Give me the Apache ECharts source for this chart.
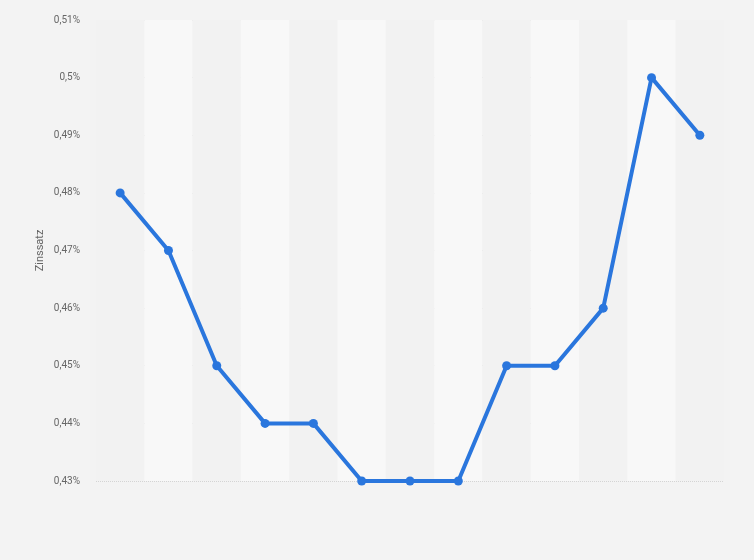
<!DOCTYPE html>
<html lang="de">
<head>
<meta charset="UTF-8">
<title>Zinssatz</title>
<script src="https://cdn.jsdelivr.net/npm/echarts@6/dist/echarts.min.js"></script>
<style>
  html, body { margin: 0; padding: 0; background: #f4f4f4; }
  #chart { width: 754px; height: 560px; }
</style>
</head>
<body>
<div id="chart"></div>
<script>
// categories (no labels shown in the reference)
const categories = ['1', '2', '3', '4', '5', '6', '7', '8', '9', '10', '11', '12', '13'];
const rates = [0.48, 0.47, 0.45, 0.44, 0.44, 0.43, 0.43, 0.43, 0.45, 0.45, 0.46, 0.50, 0.49];

const chart = echarts.init(document.getElementById('chart'));
chart.setOption({
  backgroundColor: '#f3f3f3',
  animation: false,
  grid: { left: 96, right: 30, top: 20, bottom: 79 },
  xAxis: {
    type: 'category',
    data: categories,
    boundaryGap: true,
    axisLine: { show: false },
    axisTick: { show: false },
    axisLabel: { show: false },
    splitArea: { show: true, areaStyle: { color: ['#f2f2f2', '#f8f8f8'] } }
  },
  yAxis: {
    type: 'value',
    min: 0.43,
    max: 0.51,
    interval: 0.01,
    name: 'Zinssatz',
    nameLocation: 'middle',
    nameGap: 50,
    nameMoveOverlap: false,
    nameTextStyle: { color: '#666', fontSize: 11, fontFamily: 'Roboto' },
    axisLine: { show: false },
    axisTick: { show: false },
    axisLabel: {
      color: '#666',
      fontSize: 10,
      fontFamily: 'Roboto',
      margin: 16,
      formatter: v => String(Math.round(v * 100) / 100).replace('.', ',') + '%'
    },
    splitLine: { lineStyle: { color: '#d4d4d4', type: 'dotted', width: 1 } }
  },
  series: [{
    type: 'line',
    data: rates,
    symbol: 'circle',
    symbolSize: 9,
    lineStyle: { color: '#2a76dd', width: 4 },
    itemStyle: { color: '#2a76dd' }
  }]
});
</script>
</body>
</html>
